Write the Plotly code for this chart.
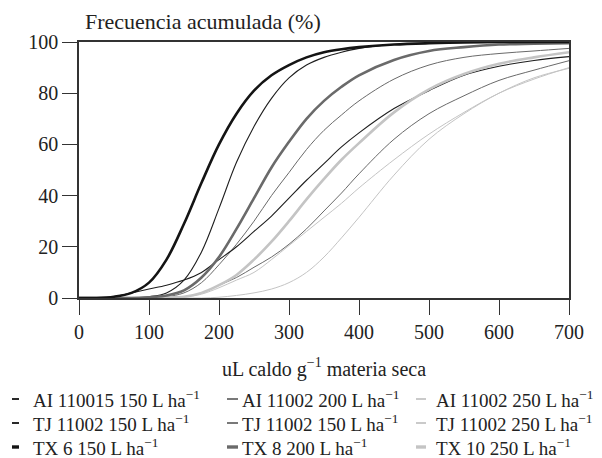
import plotly.graph_objects as go

# ---- data ----
x_vals = [0, 25, 50, 75, 100, 125, 150, 175, 200, 225, 250, 275, 300, 325, 350, 375, 400, 450, 500, 550, 600, 650, 700]

ai_110015_150 = [0, 0, 0, 0.1, 0.5, 2, 7, 18, 35, 53, 67, 78, 86, 91, 94, 96, 97.5, 99, 99.5, 99.8, 100, 100, 100]
ai_11002_200 = [0, 0, 0, 0, 0, 0.5, 2, 6, 13, 21, 30, 40, 49, 58, 65.5, 71.5, 77, 85.5, 91, 94, 95.5, 96.5, 97.5]
ai_11002_250 = [0, 0, 0, 0, 0, 0.1, 0.3, 1.5, 4, 7, 10, 15, 20.5, 26, 31.5, 37, 43, 54, 64, 72.5, 80, 85.5, 90]
tj_11002_150 = [0, 0, 0.5, 2, 3.5, 5, 7, 10, 15, 20, 26, 32, 39, 46, 52.5, 59, 64.5, 74, 81, 87, 90.5, 92.8, 94.3]
tj_11002_150b = [0, 0, 0, 0, 0, 0.2, 0.5, 2, 5, 8, 12, 16, 21, 27, 34, 41, 48.5, 62, 72, 79, 85, 89, 92.7]
tj_11002_250 = [0, 0, 0, 0, 0, 0, 0, 0, 0.3, 1, 2, 3.5, 6, 10, 16, 23.5, 31.5, 48, 62, 72, 80, 86, 89.7]
tx_6_150 = [0, 0, 0.5, 2, 6, 15, 29, 45, 60, 72, 81, 87, 91, 94, 96, 97.2, 98, 99, 99.5, 99.8, 100, 100, 100]
tx_8_200 = [0, 0, 0, 0, 0.3, 1, 3, 8, 16, 27, 39, 51, 61, 70, 77, 82.5, 87, 93, 96.5, 98, 99, 99.3, 99.5]
tx_10_250 = [0, 0, 0, 0, 0, 0.2, 0.5, 2, 5, 9, 15, 22, 30, 38.5, 46.5, 54, 60.5, 72.5, 81.5, 87.5, 91.5, 94, 96]

series_names = [
    "AI 110015 150 L ha<sup>−1</sup>", "AI 11002 200 L ha<sup>−1</sup>", "AI 11002 250 L ha<sup>−1</sup>",
    "TJ 11002 150 L ha<sup>−1</sup>", "TJ 11002 150 L ha<sup>−1</sup>", "TJ 11002 250 L ha<sup>−1</sup>",
    "TX 6 150 L ha<sup>−1</sup>", "TX 8 200 L ha<sup>−1</sup>", "TX 10 250 L ha<sup>−1</sup>",
]
series_values = [ai_110015_150, ai_11002_200, ai_11002_250,
                 tj_11002_150, tj_11002_150b, tj_11002_250,
                 tx_6_150, tx_8_200, tx_10_250]

x_ticks = [0, 100, 200, 300, 400, 500, 600, 700]
y_ticks = [0, 20, 40, 60, 80, 100]

# ---- styles ----
colors = ["#1e1e1e", "#6a6a6a", "#c4c4c4",
          "#1e1e1e", "#6a6a6a", "#c4c4c4",
          "#141414", "#6a6a6a", "#c4c4c4"]
widths = [1.1, 1.0, 1.0, 1.1, 1.0, 1.0, 2.6, 2.6, 2.6]
draw_order = [2, 5, 4, 1, 3, 0, 8, 7, 6]

FONT = "Liberation Serif"

# page body has an 8px margin; figure is shrunk/shifted to compensate
OFF = 8
W, H = 602 - OFF, 458 - OFF
# desired plot box in screen pixels: left 79, top 42, right 569, bottom 298
L, T = 79 - OFF, 42 - OFF
R = W - (569 - OFF)
B = H - (298 - OFF)
pw, ph = W - L - R, H - T - B

def screen_to_paper(sx, sy):
    fx, fy = sx - OFF, sy - OFF
    return (fx - L) / pw, (H - B - fy) / ph

fig = go.Figure()
for i in draw_order:
    fig.add_trace(go.Scatter(
        x=x_vals, y=series_values[i], mode="lines", name=series_names[i],
        line=dict(color=colors[i], width=widths[i], shape="spline", smoothing=1.0),
        showlegend=False, hoverinfo="skip"))

# manual legend (3 columns x 3 rows)
col_sym = [(12, 19), (227, 238), (416, 426)]
col_txt = [31, 240, 434]
row_py = [399, 423, 447]
shapes = []
annotations = []
for k, name in enumerate(series_names):
    r, c = divmod(k, 3)
    x0, y0 = screen_to_paper(col_sym[c][0], row_py[r])
    x1, _ = screen_to_paper(col_sym[c][1], row_py[r])
    shapes.append(dict(type="line", xref="paper", yref="paper", x0=x0, x1=x1, y0=y0, y1=y0,
                       line=dict(color=colors[k], width=widths[k] + 0.8)))
    xt, yt = screen_to_paper(col_txt[c], row_py[r])
    annotations.append(dict(text=name, xref="paper", yref="paper", x=xt, y=yt,
                            xanchor="left", yanchor="middle", showarrow=False,
                            font=dict(family=FONT, size=19, color="#222")))

axis_common = dict(showline=True, linecolor="#333", linewidth=1.5, mirror=True,
                   ticks="outside", ticklen=15, tickwidth=1.3, tickcolor="#333",
                   showgrid=False, zeroline=False,
                   tickfont=dict(family=FONT, size=20, color="#222"))

fig.update_layout(
    width=W, height=H,
    margin=dict(l=L, r=R, t=T, b=B, autoexpand=False),
    paper_bgcolor="white", plot_bgcolor="white",
    title=dict(text="Frecuencia acumulada (%)", xref="container", yref="container",
               x=(85 - OFF) / W, y=1 - (21 - OFF) / H, xanchor="left", yanchor="middle",
               font=dict(family=FONT, size=22, color="#222")),
    xaxis=dict(range=[0, 700], tickvals=x_ticks, ticktext=[str(v) for v in x_ticks],
               title=dict(text="uL caldo g<sup>−1</sup> materia seca", standoff=20,
                          font=dict(family=FONT, size=20, color="#222")),
               **axis_common),
    yaxis=dict(range=[0, 100], tickvals=y_ticks, ticktext=[str(v) for v in y_ticks],
               **axis_common),
    shapes=shapes, annotations=annotations,
)

fig.write_html("out.html")
